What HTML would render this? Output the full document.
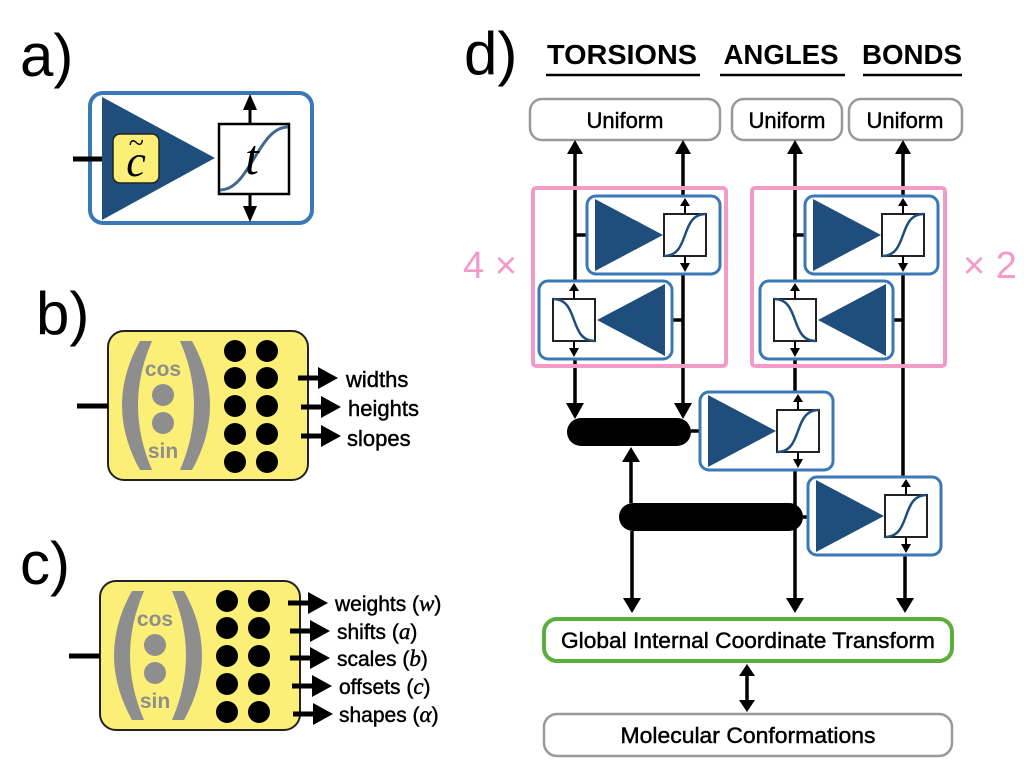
<!DOCTYPE html>
<html><head><meta charset="utf-8"><style>
html,body{margin:0;padding:0;background:#fff}
svg{display:block}
text{font-family:"Liberation Sans",sans-serif}
.m{stroke:#000;stroke-width:0.45}
.serif{font-family:"Liberation Serif",serif;font-style:italic}
</style></head><body>
<svg width="1024" height="768" viewBox="0 0 1024 768" xmlns="http://www.w3.org/2000/svg">
<defs>
<g id="fwd">
  <rect x="0" y="0" width="133" height="78" rx="9" fill="#fff" stroke="#3A78B8" stroke-width="3"/>
  <polygon points="8,3 8,75 76,39" fill="#1F4E7D"/>
  <rect x="77" y="18" width="42" height="42" fill="#fff" stroke="#222" stroke-width="2"/>
  <path d="M77,60 C104,60 92,18 119,18" fill="none" stroke="#1F4E7D" stroke-width="2.5"/>
  <line x1="98" y1="18" x2="98" y2="9" stroke="#000" stroke-width="2"/>
  <polygon points="93,10 103,10 98,2" fill="#000"/>
  <line x1="98" y1="60" x2="98" y2="68" stroke="#000" stroke-width="2"/>
  <polygon points="93,67 103,67 98,76" fill="#000"/>
</g>
<g id="rev">
  <rect x="0" y="0" width="133" height="78" rx="9" fill="#fff" stroke="#3A78B8" stroke-width="3"/>
  <polygon points="126,3 126,75 58,39" fill="#1F4E7D"/>
  <rect x="14" y="18" width="42" height="42" fill="#fff" stroke="#222" stroke-width="2"/>
  <path d="M14,18 C41,18 29,60 56,60" fill="none" stroke="#1F4E7D" stroke-width="2.5"/>
  <line x1="35" y1="18" x2="35" y2="9" stroke="#000" stroke-width="2"/>
  <polygon points="30,10 40,10 35,2" fill="#000"/>
  <line x1="35" y1="60" x2="35" y2="68" stroke="#000" stroke-width="2"/>
  <polygon points="30,67 40,67 35,76" fill="#000"/>
</g>
<g id="yel">
  <rect x="108" y="331" width="200" height="149" rx="16" fill="#FBEF77" stroke="#222" stroke-width="2"/>
  <line x1="77" y1="406" x2="108" y2="406" stroke="#000" stroke-width="5"/>
  <path d="M140,341 L152,341 Q124,405 152,470 L140,470 Q104,405 140,341 Z" fill="#8E8E8E"/>
  <path d="M180,341 L192,341 Q228,405 192,470 L180,470 Q208,405 180,341 Z" fill="#8E8E8E"/>
  <text x="163" y="376" font-size="21" font-weight="bold" fill="#8E8E8E" text-anchor="middle">cos</text>
  <circle cx="163" cy="395" r="11" fill="#8E8E8E"/>
  <circle cx="163" cy="423" r="11" fill="#8E8E8E"/>
  <text x="163" y="458" font-size="21" font-weight="bold" fill="#8E8E8E" text-anchor="middle">sin</text>
  <g fill="#000">
    <circle cx="235" cy="351" r="11"/><circle cx="267" cy="351" r="11"/>
    <circle cx="235" cy="378" r="11"/><circle cx="267" cy="378" r="11"/>
    <circle cx="235" cy="406" r="11"/><circle cx="267" cy="406" r="11"/>
    <circle cx="235" cy="434" r="11"/><circle cx="267" cy="434" r="11"/>
    <circle cx="235" cy="462" r="11"/><circle cx="267" cy="462" r="11"/>
  </g>
</g>
<g id="arr"><line x1="0" y1="0" x2="22" y2="0" stroke="#000" stroke-width="5"/><polygon points="20,-11 20,11 40,0" fill="#000"/></g>
</defs>

<!-- panel labels -->
<text x="20" y="76" font-size="60">a)</text>
<text x="36" y="334" font-size="60">b)</text>
<text x="20" y="584" font-size="60">c)</text>
<text x="464" y="74" font-size="60">d)</text>

<!-- panel a -->
<rect x="90" y="93" width="222" height="130" rx="13" fill="#fff" stroke="#3A78B8" stroke-width="4"/>
<line x1="73" y1="159" x2="102" y2="159" stroke="#000" stroke-width="5"/>
<polygon points="102,97 102,220 215,158" fill="#1F4E7D"/>
<rect x="113" y="134" width="46" height="49" rx="7" fill="#FBEF77" stroke="#222" stroke-width="1.5"/>
<text x="136" y="176" font-size="44" class="serif" text-anchor="middle">c</text>
<text x="136" y="152" font-size="28" class="serif" text-anchor="middle">~</text>
<rect x="219" y="124" width="70" height="70" fill="#fff" stroke="#000" stroke-width="2.5"/>
<path d="M220,190 C250,190 258,127 288,127" fill="none" stroke="#1F4E7D" stroke-width="3" opacity="0.85"/>
<text x="252" y="174" font-size="50" class="serif" text-anchor="middle">t</text>
<line x1="250" y1="124" x2="250" y2="108" stroke="#000" stroke-width="3"/>
<polygon points="243,110 257,110 250,94" fill="#000"/>
<line x1="250" y1="194" x2="250" y2="208" stroke="#000" stroke-width="3"/>
<polygon points="243,206 257,206 250,222" fill="#000"/>

<!-- panel b -->
<use href="#yel"/>
<use href="#arr" x="298" y="378"/>
<use href="#arr" x="301" y="407"/>
<use href="#arr" x="301" y="436"/>
<text class="m" x="346" y="387" font-size="22">widths</text>
<text class="m" x="348" y="416" font-size="22">heights</text>
<text class="m" x="347" y="446" font-size="22">slopes</text>

<!-- panel c -->
<use href="#yel" transform="translate(-8,250)"/>
<use href="#arr" x="288" y="603"/>
<use href="#arr" x="290" y="631"/>
<use href="#arr" x="290" y="658"/>
<use href="#arr" x="292" y="686"/>
<use href="#arr" x="293" y="714"/>
<text class="m" x="335" y="611" font-size="21">weights (<tspan class="serif" font-size="23">w</tspan>)</text>
<text class="m" x="337" y="639" font-size="21">shifts (<tspan class="serif" font-size="23">a</tspan>)</text>
<text class="m" x="337" y="666" font-size="21">scales (<tspan class="serif" font-size="23">b</tspan>)</text>
<text class="m" x="339" y="694" font-size="21">offsets (<tspan class="serif" font-size="23">c</tspan>)</text>
<text class="m" x="339" y="722" font-size="21">shapes (<tspan class="serif" font-size="23">α</tspan>)</text>

<!-- panel d headers -->
<text x="622" y="64" font-size="28" font-weight="bold" text-anchor="middle" textLength="150" lengthAdjust="spacingAndGlyphs">TORSIONS</text>
<text x="781" y="64" font-size="28" font-weight="bold" text-anchor="middle" textLength="115" lengthAdjust="spacingAndGlyphs">ANGLES</text>
<text x="912" y="64" font-size="28" font-weight="bold" text-anchor="middle" textLength="100" lengthAdjust="spacingAndGlyphs">BONDS</text>
<g stroke="#000" stroke-width="2.5">
<line x1="546" y1="75" x2="700" y2="75"/><line x1="720" y1="75" x2="845" y2="75"/><line x1="863" y1="75" x2="962" y2="75"/>
</g>
<g fill="#fff" stroke="#999" stroke-width="2.5">
<rect x="530" y="99" width="190" height="41" rx="12"/>
<rect x="732" y="99" width="110" height="41" rx="12"/>
<rect x="849" y="99" width="113" height="41" rx="12"/>
</g>
<text class="m" x="625" y="128" font-size="22" text-anchor="middle">Uniform</text>
<text class="m" x="787" y="128" font-size="22" text-anchor="middle">Uniform</text>
<text class="m" x="905" y="128" font-size="22" text-anchor="middle">Uniform</text>

<!-- main lines -->
<g stroke="#000" stroke-width="3.5">
<line x1="575" y1="152" x2="575" y2="281"/>
<line x1="575" y1="359" x2="575" y2="405"/>
<line x1="683" y1="152" x2="683" y2="196"/>
<line x1="683" y1="274" x2="683" y2="405"/>
<line x1="795" y1="152" x2="795" y2="281"/>
<line x1="795" y1="359" x2="795" y2="392"/>
<line x1="795" y1="470" x2="795" y2="600"/>
<line x1="903" y1="152" x2="903" y2="196"/>
<line x1="903" y1="274" x2="903" y2="477"/>
<line x1="905" y1="556" x2="905" y2="600"/>
<line x1="631" y1="503" x2="631" y2="460"/>
<line x1="632" y1="531" x2="632" y2="600"/>
<line x1="575" y1="235" x2="595" y2="235"/>
<line x1="683" y1="320" x2="665" y2="320"/>
<line x1="793" y1="235" x2="813" y2="235"/>
<line x1="903" y1="320" x2="885" y2="320"/>
<line x1="691" y1="431" x2="707" y2="431"/>
<line x1="803" y1="517" x2="815" y2="517"/>
<line x1="747" y1="672" x2="747" y2="704"/>
</g>
<g fill="#000">
<polygon points="567,154 583,154 575,140"/>
<polygon points="675,154 691,154 683,140"/>
<polygon points="787,154 803,154 795,140"/>
<polygon points="895,154 911,154 903,140"/>
<polygon points="566,403 584,403 575,419"/>
<polygon points="674,403 692,403 683,419"/>
<polygon points="622,462 640,462 631,447"/>
<polygon points="623,598 641,598 632,613"/>
<polygon points="786,598 804,598 795,613"/>
<polygon points="896,598 914,598 905,613"/>
<polygon points="739,676 755,676 747,664"/>
<polygon points="739,700 755,700 747,712"/>
<rect x="567" y="418" width="124" height="28" rx="14"/>
<rect x="619" y="503" width="184" height="28" rx="14"/>
</g>

<!-- pink boxes -->
<rect x="533" y="188" width="193" height="178" rx="3" fill="none" stroke="#F29AC8" stroke-width="4"/>
<rect x="752" y="188" width="193" height="178" rx="3" fill="none" stroke="#F29AC8" stroke-width="4"/>
<text x="490" y="278" font-size="38" fill="#F29AC8" text-anchor="middle">4 ×</text>
<text x="990" y="278" font-size="38" fill="#F29AC8" text-anchor="middle">× 2</text>

<use href="#fwd" x="587" y="196"/>
<use href="#rev" x="539" y="281"/>
<use href="#fwd" x="805" y="196"/>
<use href="#rev" x="760" y="281"/>
<use href="#fwd" x="700" y="392"/>
<use href="#fwd" x="808" y="477"/>

<rect x="544" y="619" width="408" height="42" rx="13" fill="#fff" stroke="#5AAE3A" stroke-width="4"/>
<text class="m" x="748" y="648" font-size="22" text-anchor="middle" textLength="374" lengthAdjust="spacingAndGlyphs">Global Internal Coordinate Transform</text>
<rect x="544" y="714" width="408" height="42" rx="13" fill="#fff" stroke="#999" stroke-width="2.5"/>
<text class="m" x="748" y="743" font-size="22" text-anchor="middle" textLength="255" lengthAdjust="spacingAndGlyphs">Molecular Conformations</text>
</svg>
</body></html>
